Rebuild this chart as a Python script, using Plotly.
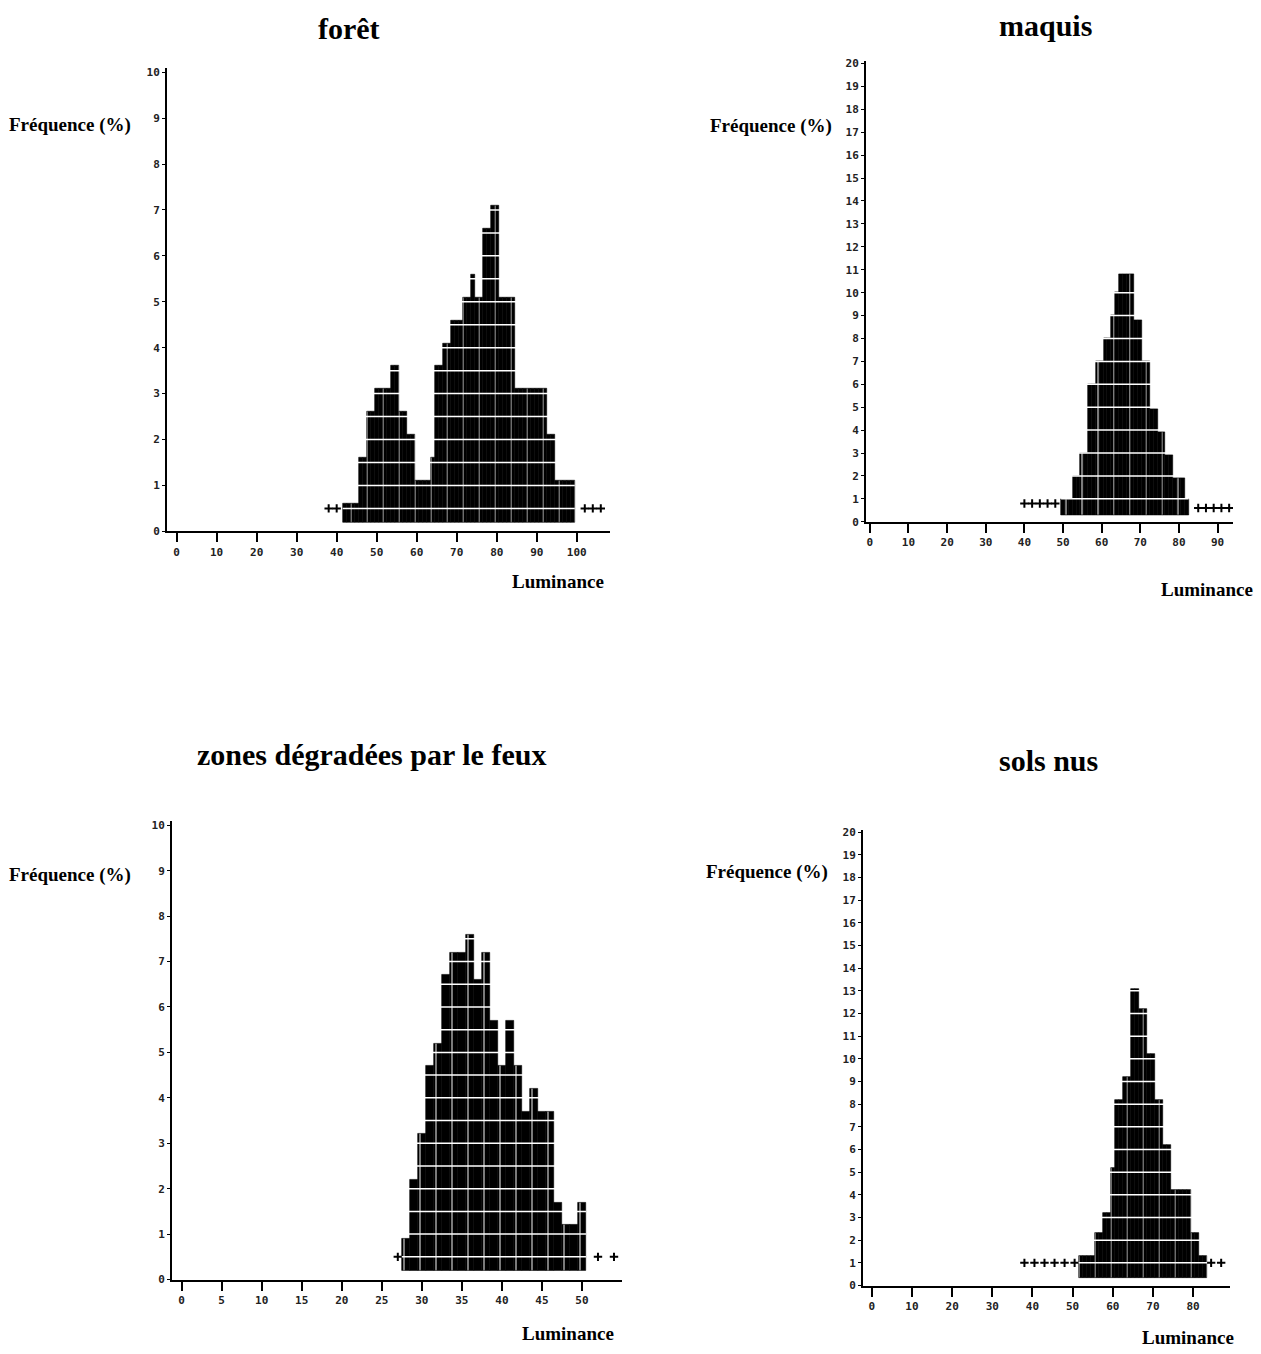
import plotly.graph_objects as go

W, H = 1261, 1354

# ---------------- data ----------------
# forêt : luminance levels and frequency (%)
foret_lum = list(range(42, 100))
foret_freq = [0.6, 0.6, 0.6, 0.6, 1.6, 1.6, 2.6, 2.6, 3.1, 3.1, 3.1, 3.1,
              3.6, 3.6, 2.6, 2.6, 2.1, 2.1, 1.1, 1.1, 1.1, 1.1, 1.6, 3.6,
              3.6, 4.1, 4.1, 4.6, 4.6, 4.6, 5.1, 5.1, 5.6, 5.1, 5.1, 6.6,
              6.6, 7.1, 7.1, 5.1, 5.1, 5.1, 5.1, 3.1, 3.1, 3.1, 3.1, 3.1,
              3.1, 3.1, 3.1, 2.1, 2.1, 1.1, 1.1, 1.1, 1.1, 1.1]
foret_plus_lum = [38, 40, 102, 104, 106]
foret_plus_freq = [0.5, 0.5, 0.5, 0.5, 0.5]

# maquis
maquis_lum = list(range(50, 83))
maquis_freq = [1.0, 1.0, 1.0, 2.0, 2.0, 3.0, 3.0, 6.0, 6.0, 7.0, 7.0, 8.0,
               8.0, 9.0, 10.0, 10.8, 10.8, 10.8, 10.8, 8.8, 8.8, 7.0, 7.0,
               4.9, 4.9, 3.9, 3.9, 2.9, 2.9, 1.9, 1.9, 1.9, 1.0]
maquis_plus_lum = [40, 42, 44, 46, 48, 85, 87, 89, 91, 93, 97]
maquis_plus_freq = [0.8, 0.8, 0.8, 0.8, 0.8, 0.6, 0.6, 0.6, 0.6, 0.6, 0.6]

# zones dégradées par le feux
feux_lum = list(range(28, 51))
feux_freq = [0.9, 2.2, 3.2, 4.7, 5.2, 6.7, 7.2, 7.2, 7.6, 6.6, 7.2, 5.7,
             4.7, 5.7, 4.7, 3.7, 4.2, 3.7, 3.7, 1.7, 1.2, 1.2, 1.7]
feux_plus_lum = [27, 52, 54]
feux_plus_freq = [0.5, 0.5, 0.5]

# sols nus
sols_lum = list(range(52, 84))
sols_freq = [1.3, 1.3, 1.3, 1.3, 2.3, 2.3, 3.2, 3.2, 5.2, 8.2, 8.2, 9.2,
             9.2, 13.1, 13.1, 12.2, 12.2, 10.2, 10.2, 8.2, 8.2, 6.2, 6.2,
             4.2, 4.2, 4.2, 4.2, 4.2, 2.3, 2.3, 1.3, 1.3]
sols_plus_lum = [38, 40.5, 43, 45.5, 48, 50.5, 84.5, 87]
sols_plus_freq = [1.0, 1.0, 1.0, 1.0, 1.0, 1.0, 1.0, 1.0]

titles = ["forêt", "maquis", "zones dégradées par le feux", "sols nus"]
y_label = "Fréquence (%)"
x_label = "Luminance"

foret_xticks = list(range(0, 101, 10))
maquis_xticks = list(range(0, 91, 10))
feux_xticks = list(range(0, 51, 5))
sols_xticks = list(range(0, 81, 10))
ticks_0_10 = list(range(0, 11))
ticks_0_20 = list(range(0, 21))

# ---------------- layout (pixel geometry of each panel) ----------------
panels = [
    dict(lum=foret_lum, freq=foret_freq, plum=foret_plus_lum, pfreq=foret_plus_freq,
         xt=foret_xticks, yt=ticks_0_10, xr=[-2.4, 108.3], yr=[0, 10.1],
         xpx=(167, 610), ypx=(64.1, 531.7), row=0.5, floor=0.2,
         tpos=(349, 25), fpos=(7, 122), lpos=(558, 582)),
    dict(lum=maquis_lum, freq=maquis_freq, plum=maquis_plus_lum, pfreq=maquis_plus_freq,
         xt=maquis_xticks, yt=ticks_0_20, xr=[-1.0, 94.0], yr=[0, 20.1],
         xpx=(866, 1233), ypx=(57.7, 522), row=1.0, floor=0.3,
         tpos=(1045, 22), fpos=(708, 123), lpos=(1207, 590)),
    dict(lum=feux_lum, freq=feux_freq, plum=feux_plus_lum, pfreq=feux_plus_freq,
         xt=feux_xticks, yt=ticks_0_10, xr=[-1.2, 55.0], yr=[0, 10.1],
         xpx=(172, 622), ypx=(823.4, 1286), row=0.5, floor=0.2,
         tpos=(371, 757), fpos=(7, 878), lpos=(568, 1340)),
    dict(lum=sols_lum, freq=sols_freq, plum=sols_plus_lum, pfreq=sols_plus_freq,
         xt=sols_xticks, yt=ticks_0_20, xr=[-2.2, 89.2], yr=[0, 20.1],
         xpx=(863, 1230), ypx=(832.7, 1292), row=1.0, floor=0.35,
         tpos=(1048, 763), fpos=(704, 875), lpos=(1188, 1344)),
]

SERIF = "Liberation Serif, Times New Roman, serif"
MONO = "DejaVu Sans Mono, monospace"

fig = go.Figure()
shapes = []
annotations = []
layout_axes = {}

for i, (p, title) in enumerate(zip(panels, titles), start=1):
    xa = "x" if i == 1 else f"x{i}"
    ya = "y" if i == 1 else f"y{i}"
    floor = p["floor"]
    fig.add_trace(go.Bar(
        x=p["lum"], y=[v - floor for v in p["freq"]], base=floor, width=1.0,
        xaxis=xa, yaxis=ya, showlegend=False, hoverinfo="skip",
        marker=dict(color="black", line=dict(width=0.6, color="black"),
                    pattern=dict(shape="|", fgcolor="white", bgcolor="black",
                                 size=16, solidity=0.12)),
    ))
    fig.add_trace(go.Scatter(
        x=p["plum"], y=p["pfreq"], mode="markers", xaxis=xa, yaxis=ya,
        showlegend=False, hoverinfo="skip",
        marker=dict(symbol="cross-thin", size=6, color="black",
                    line=dict(width=2, color="black")),
    ))
    # white character-row lines across the dot-matrix bars
    top = max(p["freq"])
    k = 1
    while k * p["row"] < top:
        shapes.append(dict(type="line", xref=xa, yref=ya, layer="above",
                           x0=min(p["lum"]) - 0.5, x1=max(p["lum"]) + 0.5,
                           y0=k * p["row"], y1=k * p["row"],
                           line=dict(color="white", width=1.5)))
        k += 1

    xd = [p["xpx"][0] / W, p["xpx"][1] / W]
    yd = [1 - p["ypx"][1] / H, 1 - p["ypx"][0] / H]
    xkey = "xaxis" if i == 1 else f"xaxis{i}"
    ykey = "yaxis" if i == 1 else f"yaxis{i}"
    layout_axes[xkey] = dict(
        domain=xd, range=p["xr"], anchor=ya, showgrid=False, zeroline=False,
        showline=True, linecolor="black", linewidth=2,
        ticks="outside", ticklen=9, tickwidth=1.5, tickcolor="black",
        tickmode="array", tickvals=p["xt"], ticktext=[str(t) for t in p["xt"]],
        tickfont=dict(family=MONO, size=11, color="#222", weight="bold"),
    )
    layout_axes[ykey] = dict(
        domain=yd, range=p["yr"], anchor=xa, showgrid=False, zeroline=False,
        showline=True, linecolor="black", linewidth=2,
        ticks="outside", ticklen=3, tickwidth=1, tickcolor="black",
        tickmode="array", tickvals=p["yt"], ticktext=[str(t) for t in p["yt"]],
        tickfont=dict(family=MONO, size=11, color="#222", weight="bold"),
    )

    annotations.append(dict(text=title, x=p["tpos"][0] / W, y=1 - p["tpos"][1] / H,
                            xref="paper", yref="paper", xanchor="center", yanchor="middle",
                            showarrow=False,
                            font=dict(family=SERIF, size=30, color="black", weight="bold")))
    annotations.append(dict(text=y_label, x=p["fpos"][0] / W, y=1 - p["fpos"][1] / H,
                            xref="paper", yref="paper", xanchor="left", yanchor="middle",
                            showarrow=False,
                            font=dict(family=SERIF, size=19, color="black", weight="bold")))
    annotations.append(dict(text=x_label, x=p["lpos"][0] / W, y=1 - p["lpos"][1] / H,
                            xref="paper", yref="paper", xanchor="center", yanchor="middle",
                            showarrow=False,
                            font=dict(family=SERIF, size=19, color="black", weight="bold")))

fig.update_layout(
    width=W, height=H, autosize=False,
    margin=dict(l=0, r=0, t=0, b=0),
    paper_bgcolor="white", plot_bgcolor="white",
    bargap=0, barmode="overlay",
    shapes=shapes, annotations=annotations,
    **layout_axes,
)

# remove the default page margin so the figure sits exactly in the window
fig.write_html("out.html",
               config={"displayModeBar": False},
               post_script="document.body.style.margin='0';document.body.style.overflow='hidden';")
